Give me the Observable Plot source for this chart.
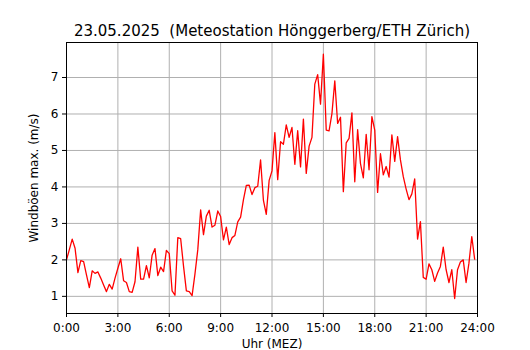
<!DOCTYPE html>
<html>
<head>
<meta charset="utf-8">
<script src="https://cdn.jsdelivr.net/npm/d3@7"></script>
<script src="https://cdn.jsdelivr.net/npm/@observablehq/plot@0.6"></script>
<style>
  html, body { margin: 0; padding: 0; background: #fff; }
  svg { font-family: "DejaVu Sans", sans-serif; }
</style>
</head>
<body>
<div id="chart"></div>
<script>
const titleText = "23.05.2025 \u00a0(Meteostation Hönggerberg/ETH Zürich)";
const xLabel = "Uhr (MEZ)";
const yLabel = "Windböen max. (m/s)";
const intervalMinutes = 10;
const xTicks = [0, 3, 6, 9, 12, 15, 18, 21, 24];
const xTickLabels = ["0:00", "3:00", "6:00", "9:00", "12:00", "15:00", "18:00", "21:00", "24:00"];
const yTicks = [1, 2, 3, 4, 5, 6, 7];
// max. wind gust (m/s), 10-minute values from 0:00 to 23:50
const gusts = [
  2.00, 2.28, 2.57, 2.32, 1.65, 1.98, 1.95, 1.59, 1.24, 1.70,
  1.63, 1.67, 1.50, 1.31, 1.13, 1.33, 1.20, 1.50, 1.77, 2.03,
  1.43, 1.38, 1.13, 1.11, 1.40, 2.35, 1.47, 1.47, 1.84, 1.51,
  2.13, 2.31, 1.57, 1.80, 1.68, 2.26, 2.17, 1.15, 1.03, 2.61,
  2.58, 1.83, 1.15, 1.13, 1.02, 1.61, 2.28, 3.37, 2.69, 3.20,
  3.36, 2.90, 2.95, 3.34, 3.19, 2.55, 2.90, 2.42, 2.61, 2.67,
  3.04, 3.17, 3.65, 4.04, 4.05, 3.79, 3.98, 4.02, 4.74, 3.63,
  3.25, 4.18, 4.44, 5.49, 4.20, 5.24, 5.17, 5.70, 5.36, 5.63,
  4.62, 5.54, 4.55, 5.86, 4.37, 5.12, 5.36, 6.82, 7.08, 6.27,
  7.64, 5.56, 5.54, 6.01, 6.91, 5.74, 5.91, 3.87, 5.21, 5.33,
  6.03, 4.14, 5.57, 4.64, 4.25, 5.44, 4.47, 5.93, 5.56, 3.85,
  4.91, 4.33, 4.56, 4.27, 5.43, 4.70, 5.38, 4.74, 4.28, 3.94,
  3.65, 3.81, 4.22, 2.57, 3.05, 1.52, 1.47, 1.89, 1.73, 1.41,
  1.64, 1.82, 2.35, 1.73, 1.38, 1.73, 0.94, 1.73, 1.94, 2.00,
  1.38, 1.91, 2.64, 2.02
];

const data = gusts.map((v, i) => ({hour: i * intervalMinutes / 60, value: v}));
const tickFmt = h => xTickLabels[xTicks.indexOf(h)];

const chart = Plot.plot({
  width: 530,
  height: 350,
  marginLeft: 66,
  marginRight: 53,
  marginTop: 42,
  marginBottom: 37,
  style: {fontFamily: "DejaVu Sans, sans-serif", fontSize: "12px", color: "#000", background: "#fff"},
  x: {domain: [0, 24]},
  y: {domain: [0.53, 7.96]},
  marks: [
    Plot.gridX(xTicks, {stroke: "#b0b0b0", strokeOpacity: 1, strokeWidth: 1}),
    Plot.gridY(yTicks, {stroke: "#b0b0b0", strokeOpacity: 1, strokeWidth: 1}),
    Plot.line(data, {x: "hour", y: "value", stroke: "#ff0000", strokeWidth: 1.3}),
    Plot.frame({stroke: "#000", strokeWidth: 1}),
    Plot.axisX(xTicks, {tickFormat: tickFmt, tickSize: 4, tickPadding: 6, fontSize: 12,
      label: xLabel, labelAnchor: "center", labelArrow: "none", labelOffset: 34}),
    Plot.axisY(yTicks, {tickSize: 4, tickPadding: 4, fontSize: 12,
      label: yLabel, labelAnchor: "center", labelArrow: "none", labelOffset: 37}),
    Plot.text([titleText], {text: d => d, frameAnchor: "top", lineAnchor: "bottom", dy: -7, fontSize: 15})
  ]
});
document.getElementById("chart").appendChild(chart);
</script>
</body>
</html>
